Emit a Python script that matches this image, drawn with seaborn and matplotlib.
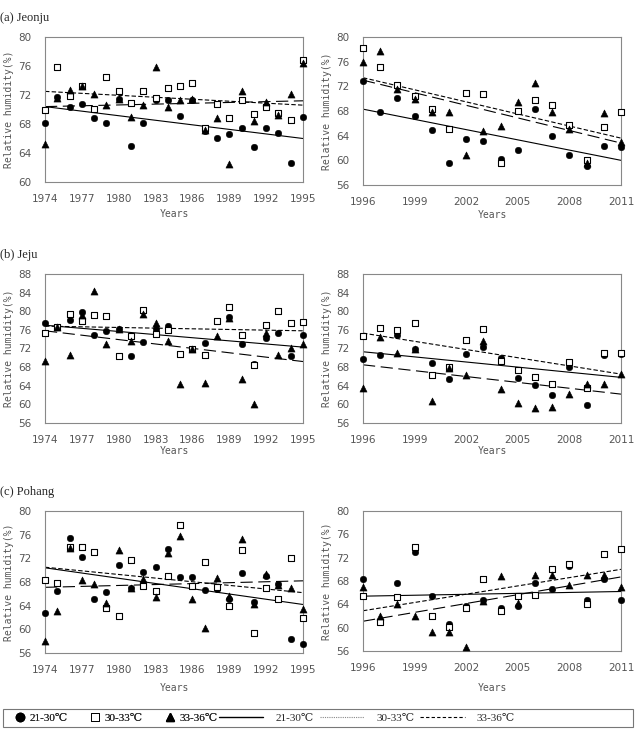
#!/usr/bin/env python3

# Relative humidity by temperature band, three stations, two periods.

import matplotlib.pyplot as plt
from matplotlib.lines import Line2D
from matplotlib.patches import Rectangle
import pandas
import seaborn as sns

sns.set_theme(style="white")

groups = ["21-30℃", "30-33℃", "33-36℃"]
years_early = list(range(1974, 1996))
years_late = list(range(1996, 2012))

# (a) Jeonju
jeonju_early_21_30 = [68.2, 71.7, 70.3, 70.8, 68.8, 68.2, 71.5, 64.9, 68.2, 71.3, 71.3,
                      69.1, 71.3, 67.0, 66.1, 66.6, 67.4, 64.8, 67.5, 66.7, 62.6, 69.0]
jeonju_early_30_33 = [69.9, 75.8, 71.9, 73.3, 70.1, 74.5, 72.6, 70.9, 72.6, 71.6, 72.9,
                      73.2, 73.6, 67.5, 70.8, 68.8, 71.3, 69.4, 70.4, 69.5, 68.6, 76.8]
jeonju_early_33_36 = [65.3, 71.6, 72.7, 73.2, 72.1, 70.6, 71.4, 68.9, 70.6, 75.8, 70.4,
                      71.3, 71.5, 67.2, 68.8, 62.5, 72.6, 68.4, 71.1, 69.3, 72.1, 76.4]
jeonju_late_21_30 = [72.9, 67.9, 70.1, 67.2, 64.9, 59.6, 63.5, 63.1, 60.2, 61.7, 68.4,
                     64.0, 60.8, 59.1, 62.3, 62.2]
jeonju_late_30_33 = [78.2, 75.1, 72.2, 70.4, 68.4, 65.0, 70.9, 70.7, 59.6, 68.0, 69.8,
                     69.0, 65.8, 60.0, 65.4, 67.9]
jeonju_late_33_36 = [76.0, 77.8, 71.5, 70.0, 67.9, 67.9, 60.8, 64.7, 65.5, 69.4, 72.6,
                     67.9, 65.0, 59.5, 67.7, 62.9]

# (b) Jeju
jeju_early_21_30 = [77.5, 76.7, 78.2, 79.9, 75.0, 75.7, 76.2, 70.4, 73.4, 76.1, 76.9,
                    70.9, 72.0, 73.2, 77.9, 78.8, 72.9, 68.6, 74.3, 75.4, 70.4, 74.9]
jeju_early_30_33 = [75.4, 76.7, 79.5, 78.0, 79.1, 79.0, 70.4, 74.7, 80.2, 75.2, 76.0,
                    70.8, 71.8, 70.6, 77.8, 81.0, 74.9, 68.4, 77.0, 80.0, 77.5, 77.7]
jeju_early_33_36 = [69.3, 76.7, 70.7, 79.1, 84.3, 73.0, 76.1, 73.7, 79.5, 77.5, 73.7,
                    64.3, 71.9, 64.6, 74.7, 78.6, 65.4, 60.1, 75.4, 70.7, 72.1, 72.9]
jeju_late_21_30 = [69.7, 70.7, 75.0, 71.8, 68.8, 65.4, 70.9, 72.4, 70.0, 65.6, 64.1,
                   62.1, 68.0, 59.8, 70.7, 70.9]
jeju_late_30_33 = [74.7, 76.5, 76.0, 77.5, 66.3, 68.1, 73.9, 76.2, 69.4, 67.3, 65.8,
                   64.4, 69.1, 63.5, 71.1, 71.1]
jeju_late_33_36 = [63.5, 74.5, 71.1, 71.8, 60.8, 67.9, 66.3, 73.6, 63.3, 60.2, 59.2,
                   59.5, 62.2, 64.3, 64.3, 66.6]

# (c) Pohang
pohang_early_21_30 = [62.8, 66.5, 75.4, 72.3, 65.1, 66.3, 70.9, 67.0, 69.7, 70.5, 73.5,
                      68.9, 68.9, 66.7, 66.9, 65.1, 69.5, 64.7, 69.0, 67.7, 58.4, 57.6]
pohang_early_30_33 = [68.3, 67.9, 73.9, 73.9, 73.1, 63.6, 62.3, 71.8, 67.3, 66.5, 69.0,
                      77.6, 67.3, 71.3, 67.1, 63.9, 73.4, 59.3, 67.0, 65.1, 72.1, 61.9]
pohang_early_33_36 = [58.1, 63.1, 73.7, 68.3, 67.7, 64.5, 73.4, 67.0, 68.5, 65.4, 72.9,
                      75.7, 65.1, 60.3, 68.7, 65.7, 75.3, 64.3, 69.4, 67.5, 67.0, 63.5]
pohang_late_21_30 = [68.3, 61.2, 67.7, 73.0, 65.5, 60.7, 63.8, 64.8, 63.4, 63.7, 67.7,
                     66.7, 70.5, 64.8, 68.3, 64.8]
pohang_late_30_33 = [65.5, 61.0, 65.2, 73.8, 62.0, 60.2, 63.3, 68.3, 62.9, 65.4, 65.6,
                     70.0, 70.9, 64.0, 72.7, 73.5]
pohang_late_33_36 = [67.0, 62.0, 64.0, 62.0, 59.2, 59.3, 56.7, 64.6, 68.9, 64.2, 69.0,
                     69.1, 67.3, 69.1, 69.0, 66.9]

# trend lines, value at first and last year
jeonju_early_trend = [[70.4, 66.0], [72.5, 70.6], [70.4, 71.2]]
jeonju_late_trend = [[68.3, 60.0], [73.4, 63.6], [73.0, 62.8]]
jeju_early_trend = [[77.0, 72.3], [76.8, 75.8], [75.8, 69.2]]
jeju_late_trend = [[71.3, 65.8], [75.3, 66.5], [68.5, 62.2]]
pohang_early_trend = [[70.4, 64.2], [70.5, 66.2], [67.1, 68.2]]
pohang_late_trend = [[65.4, 66.2], [62.9, 70.0], [61.1, 68.7]]

W, H = 636, 729
TICK_COLOR = "#555555"
SERIF = ["Liberation Serif", "DejaVu Serif"]
MONO = "DejaVu Sans Mono"

marker_style = {
    "21-30℃": dict(marker="o", color="black", edgecolor="black", s=22),
    "30-33℃": dict(marker="s", facecolor="white", edgecolor="black", s=22, linewidth=0.8),
    "33-36℃": dict(marker="^", color="black", edgecolor="black", s=26),
}
line_style = {
    "21-30℃": "-",
    "30-33℃": (0, (4, 2)),
    "33-36℃": (0, (11, 5)),
}


def panel_frame(years, series):
    rows = []
    for group, values in zip(groups, series):
        for year, value in zip(years, values):
            rows.append({"year": year, "rh": value, "group": group})
    return pandas.DataFrame(rows)


def draw_panel(fig, box, years, series, trends, ylim, xticks, xpad):
    left, top, right, bottom = box
    ax = fig.add_axes([left / W, 1 - bottom / H, (right - left) / W, (bottom - top) / H])
    df = panel_frame(years, series)
    for group in groups:
        sub = df[df["group"] == group]
        sns.scatterplot(data=sub, x="year", y="rh", ax=ax, legend=False, zorder=3,
                        clip_on=False, **marker_style[group])
    for group, trend in zip(groups, trends):
        sns.lineplot(x=[years[0], years[-1]], y=trend, ax=ax, color="black",
                     linewidth=0.8, linestyle=line_style[group], zorder=2)
    ax.set_xlim(years[0], years[-1])
    ax.set_ylim(*ylim)
    ax.set_xticks(xticks)
    ax.set_yticks(range(ylim[0], ylim[1] + 1, 4))
    ax.tick_params(axis="x", labelsize=7.5, colors=TICK_COLOR, length=0, pad=8.5)
    ax.tick_params(axis="y", labelsize=7.5, colors=TICK_COLOR, length=0, pad=9.5)
    for spine in ax.spines.values():
        spine.set_color("#888888")
        spine.set_linewidth(0.8)
    ax.set_xlabel("Years", fontsize=7, family=MONO, color=TICK_COLOR, labelpad=xpad)
    ax.set_ylabel("Relative humidity(%)", fontsize=7, family=MONO, color=TICK_COLOR,
                  labelpad=3)
    return ax


fig = plt.figure(figsize=(W / 100, H / 100), dpi=100)
fig.patch.set_facecolor("white")

xt_early = list(range(1974, 1996, 3))
xt_late = list(range(1996, 2012, 3))

draw_panel(fig, (45, 37, 303, 182), years_early,
           [jeonju_early_21_30, jeonju_early_30_33, jeonju_early_33_36],
           jeonju_early_trend, (60, 80), xt_early, 4)
draw_panel(fig, (363, 37, 621, 185), years_late,
           [jeonju_late_21_30, jeonju_late_30_33, jeonju_late_33_36],
           jeonju_late_trend, (56, 80), xt_late, 2)
draw_panel(fig, (45, 274, 303, 423), years_early,
           [jeju_early_21_30, jeju_early_30_33, jeju_early_33_36],
           jeju_early_trend, (56, 88), xt_early, 1)
draw_panel(fig, (363, 274, 621, 423), years_late,
           [jeju_late_21_30, jeju_late_30_33, jeju_late_33_36],
           jeju_late_trend, (56, 88), xt_late, 1)
draw_panel(fig, (45, 511, 303, 653), years_early,
           [pohang_early_21_30, pohang_early_30_33, pohang_early_33_36],
           pohang_early_trend, (56, 80), xt_early, 6)
draw_panel(fig, (363, 511, 621, 651), years_late,
           [pohang_late_21_30, pohang_late_30_33, pohang_late_33_36],
           pohang_late_trend, (56, 80), xt_late, 7)

for label, y in [("(a) Jeonju", 18), ("(b) Jeju", 255), ("(c) Pohang", 492)]:
    fig.text(0 / W, 1 - y / H, label, family=SERIF, fontsize=9, va="center", ha="left")

# legend box along the bottom
fig.patches.append(Rectangle((3 / W, 1 - 727 / H), 630 / W, 18 / H, transform=fig.transFigure,
                             facecolor="white", edgecolor="#777777", linewidth=0.8))
marker_handles = [
    Line2D([], [], marker="o", color="black", linestyle="none", markersize=6),
    Line2D([], [], marker="s", markerfacecolor="white", markeredgecolor="black",
           markeredgewidth=0.7, linestyle="none", markersize=6),
    Line2D([], [], marker="^", color="black", linestyle="none", markersize=6),
]
line_handles = [
    Line2D([], [], color="black", linewidth=1.0),
    Line2D([], [], color="#888888", linewidth=0.8, linestyle=(0, (1, 1))),
    Line2D([], [], color="black", linewidth=0.8, linestyle=(0, (3, 2))),
]
prop = {"family": SERIF, "size": 8}
leg1 = fig.legend(marker_handles, groups, loc="center left", ncol=3, frameon=False,
                  bbox_to_anchor=(14 / W, 1 - 718 / H), handlelength=1.0, handletextpad=0.4,
                  columnspacing=1.9, prop=prop, borderaxespad=0, borderpad=0)
fig.legend(line_handles, groups, loc="center left", ncol=3, frameon=False,
           bbox_to_anchor=(219 / W, 1 - 718 / H), handlelength=4.0, handletextpad=1.1,
           columnspacing=0.5, prop=prop, borderaxespad=0, borderpad=0)
fig.add_artist(leg1)

plt.savefig("out.png", dpi=100, facecolor="white")
